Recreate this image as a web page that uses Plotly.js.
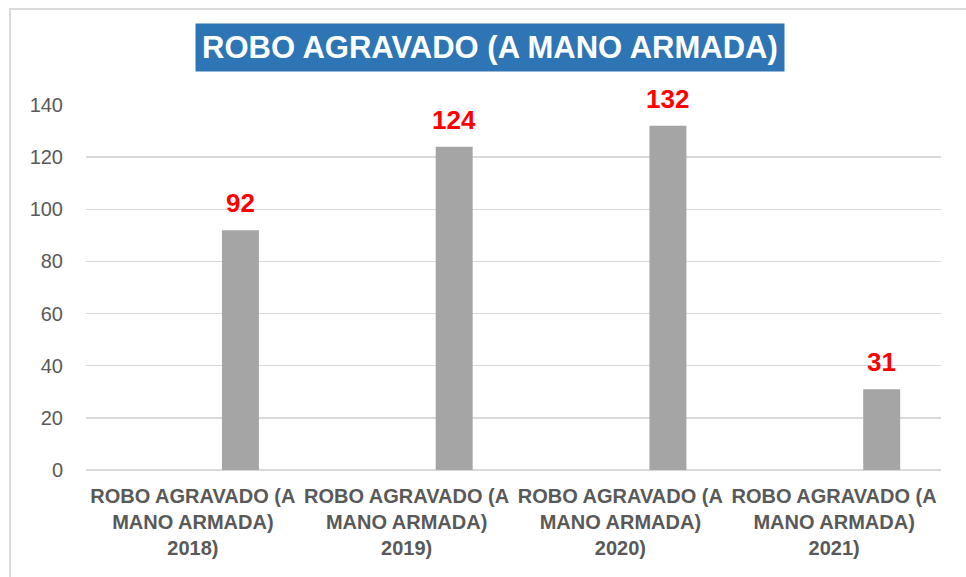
<!DOCTYPE html>
<html>
<head>
<meta charset="utf-8">
<script src="https://cdn.plot.ly/plotly-3.0.1.min.js"></script>
<style>html,body{margin:0;padding:0;background:#fff;}#chart{width:966px;height:577px;}</style>
</head>
<body>
<div id="chart"></div>
<script>
const categories = [
  "ROBO AGRAVADO (A<br>MANO ARMADA)<br>2018)",
  "ROBO AGRAVADO (A<br>MANO ARMADA)<br>2019)",
  "ROBO AGRAVADO (A<br>MANO ARMADA)<br>2020)",
  "ROBO AGRAVADO (A<br>MANO ARMADA)<br>2021)"
];
const values = [92, 124, 132, 31];
const yTicks = [0, 20, 40, 60, 80, 100, 120, 140];
const titleText = "ROBO AGRAVADO (A MANO ARMADA)";

const narrow = "'Liberation Sans Narrow', 'Arial Narrow', 'Liberation Sans', Arial, sans-serif";
const barOffset = 0.136;
const barWidth = 0.173;

const trace = {
  type: 'bar',
  x: categories,
  y: values,
  offset: barOffset,
  width: barWidth,
  marker: {color: '#a5a5a5'},
  hoverinfo: 'none'
};

const annotations = categories.map((c, i) => ({
  x: c, y: values[i], xref: 'x', yref: 'y',
  xshift: (barOffset + barWidth / 2) * 213.75,
  yshift: 10,
  yanchor: 'bottom', xanchor: 'center',
  showarrow: false,
  text: '<b>' + values[i] + '</b>',
  font: {family: narrow, size: 26, color: '#ff0000'}
}));

annotations.push({
  xref: 'paper', yref: 'paper',
  x: 0.4725, y: 1.1562,
  xanchor: 'center', yanchor: 'middle',
  showarrow: false,
  text: '<b>' + titleText + '</b>',
  font: {family: narrow, size: 31, color: '#ffffff'},
  bgcolor: '#2e75b6',
  borderpad: 6
});

const layout = {
  width: 966, height: 577,
  margin: {l: 86, r: 25, t: 105, b: 107},
  paper_bgcolor: '#ffffff',
  plot_bgcolor: '#ffffff',
  showlegend: false,
  xaxis: {
    type: 'category',
    tickfont: {family: narrow, size: 20, color: '#595959', weight: 'bold'},
    showgrid: false,
    showline: false,
    ticks: '',
    ticklabelstandoff: 12,
    fixedrange: true
  },
  yaxis: {
    range: [0, 140],
    tickvals: yTicks,
    tickfont: {family: "'Liberation Sans', Arial, sans-serif", size: 20, color: '#595959'},
    gridcolor: '#d9d9d9',
    gridwidth: 1.5,
    zeroline: true,
    zerolinecolor: '#d9d9d9',
    zerolinewidth: 1.5,
    showline: false,
    ticks: '',
    ticklabelstandoff: 22,
    fixedrange: true
  },
  annotations: annotations,
  shapes: [{
    type: 'rect', xref: 'paper', yref: 'paper',
    x0: -0.0889, x1: 1.04, y0: -0.32, y1: 1.263,
    line: {color: '#d9d9d9', width: 2},
    layer: 'below'
  }]
};

Plotly.newPlot('chart', [trace], layout, {displayModeBar: false, staticPlot: true});
</script>
</body>
</html>
